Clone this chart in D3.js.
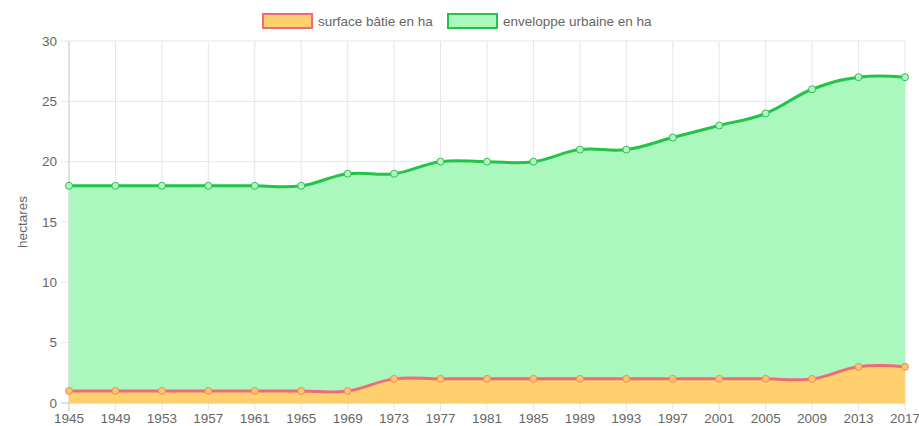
<!DOCTYPE html>
<html>
<head>
<meta charset="utf-8">
<script src="https://cdn.jsdelivr.net/npm/d3@7"></script>
<style>
  html, body { margin: 0; padding: 0; background: #fff; }
  svg { display: block; font-family: "Liberation Sans", Arial, Helvetica, sans-serif; }
</style>
</head>
<body>
<svg id="chart" width="919" height="426"></svg>
<script>
// Années de relevé
const years = [1945, 1949, 1953, 1957, 1961, 1965, 1969, 1973, 1977, 1981, 1985, 1989, 1993, 1997, 2001, 2005, 2009, 2013, 2017];
// Surface bâtie (ha)
const surfaceBatie = [1, 1, 1, 1, 1, 1, 1, 2, 2, 2, 2, 2, 2, 2, 2, 2, 2, 3, 3];
// Enveloppe urbaine (ha)
const enveloppeUrbaine = [18, 18, 18, 18, 18, 18, 19, 19, 20, 20, 20, 21, 21, 22, 23, 24, 26, 27, 27];
// Graduations de l'axe vertical
const yTicks = [0, 5, 10, 15, 20, 25, 30];
const seriesNames = ["surface bâtie en ha", "enveloppe urbaine en ha"];

const svg = d3.select("#chart");
const plot = { left: 69, right: 905, top: 41, bottom: 403 };
const fontSize = 13.5;

const x = d3.scalePoint().domain(years).range([plot.left, plot.right]);
const y = d3.scaleLinear().domain([0, 30]).range([plot.bottom, plot.top]);

const styles = [
  { line: "#f06a78", fill: "#fed06e", point: "#fdc36a", pointStroke: "#f28a6c" },
  { line: "#22c447", fill: "#aaf8be", point: "#b4f5c3", pointStroke: "#2cc04f" }
];

const curve = d3.curveCardinal.tension(-0.2);

// Grille
const grid = svg.append("g");
grid.selectAll("line.v").data(years).join("line").attr("class", "v")
  .attr("x1", d => x(d)).attr("x2", d => x(d))
  .attr("y1", plot.top).attr("y2", plot.bottom + 8)
  .attr("stroke", "#e6e6e6").attr("stroke-width", 1);
grid.selectAll("line.h").data(yTicks).join("line").attr("class", "h")
  .attr("x1", plot.left - 8).attr("x2", plot.right)
  .attr("y1", d => y(d)).attr("y2", d => y(d))
  .attr("stroke", "#e6e6e6").attr("stroke-width", 1);

// Axes de base
svg.append("line")
  .attr("x1", plot.left - 8).attr("x2", plot.right)
  .attr("y1", y(0)).attr("y2", y(0))
  .attr("stroke", "#d0d0d0");
svg.append("line")
  .attr("x1", plot.left).attr("x2", plot.left)
  .attr("y1", plot.top).attr("y2", plot.bottom + 8)
  .attr("stroke", "#d0d0d0");

// Séries : enveloppe en dessous, surface bâtie au-dessus
const datasets = [surfaceBatie, enveloppeUrbaine];
const order = [1, 0];
order.forEach(i => {
  const vals = datasets[i];
  const pts = years.map((yr, j) => [yr, vals[j]]);
  const area = d3.area().x(d => x(d[0])).y0(y(0)).y1(d => y(d[1])).curve(curve);
  svg.append("path").attr("d", area(pts)).attr("fill", styles[i].fill);
});
order.forEach(i => {
  const vals = datasets[i];
  const pts = years.map((yr, j) => [yr, vals[j]]);
  const line = d3.line().x(d => x(d[0])).y(d => y(d[1])).curve(curve);
  svg.append("path").attr("d", line(pts)).attr("fill", "none")
    .attr("stroke", styles[i].line).attr("stroke-width", 3);
  svg.append("g").selectAll("circle").data(pts).join("circle")
    .attr("cx", d => x(d[0])).attr("cy", d => y(d[1])).attr("r", 3.5)
    .attr("fill", styles[i].point).attr("stroke", styles[i].pointStroke).attr("stroke-width", 1);
});

// Libellés des axes
svg.append("g").selectAll("text").data(yTicks).join("text")
  .attr("x", plot.left - 12).attr("y", d => y(d)).attr("dy", "0.35em")
  .attr("text-anchor", "end").attr("font-size", fontSize).attr("fill", "#666")
  .text(d => d);
svg.append("g").selectAll("text").data(years).join("text")
  .attr("x", d => x(d)).attr("y", plot.bottom + 20)
  .attr("text-anchor", "middle").attr("font-size", fontSize).attr("fill", "#666")
  .text(d => d);

svg.append("text")
  .attr("transform", `translate(27,${(plot.top + plot.bottom) / 2}) rotate(-90)`)
  .attr("text-anchor", "middle").attr("font-size", fontSize).attr("fill", "#666")
  .text("hectares");

// Légende
const legendX = [263, 448];
seriesNames.forEach((name, i) => {
  svg.append("rect").attr("x", legendX[i]).attr("y", 14).attr("width", 49).attr("height", 14)
    .attr("fill", styles[i].fill).attr("stroke", styles[i].line).attr("stroke-width", 2);
  svg.append("text").attr("x", legendX[i] + 55).attr("y", 21).attr("dy", "0.35em")
    .attr("font-size", fontSize).attr("fill", "#666").text(name);
});
</script>
</body>
</html>
